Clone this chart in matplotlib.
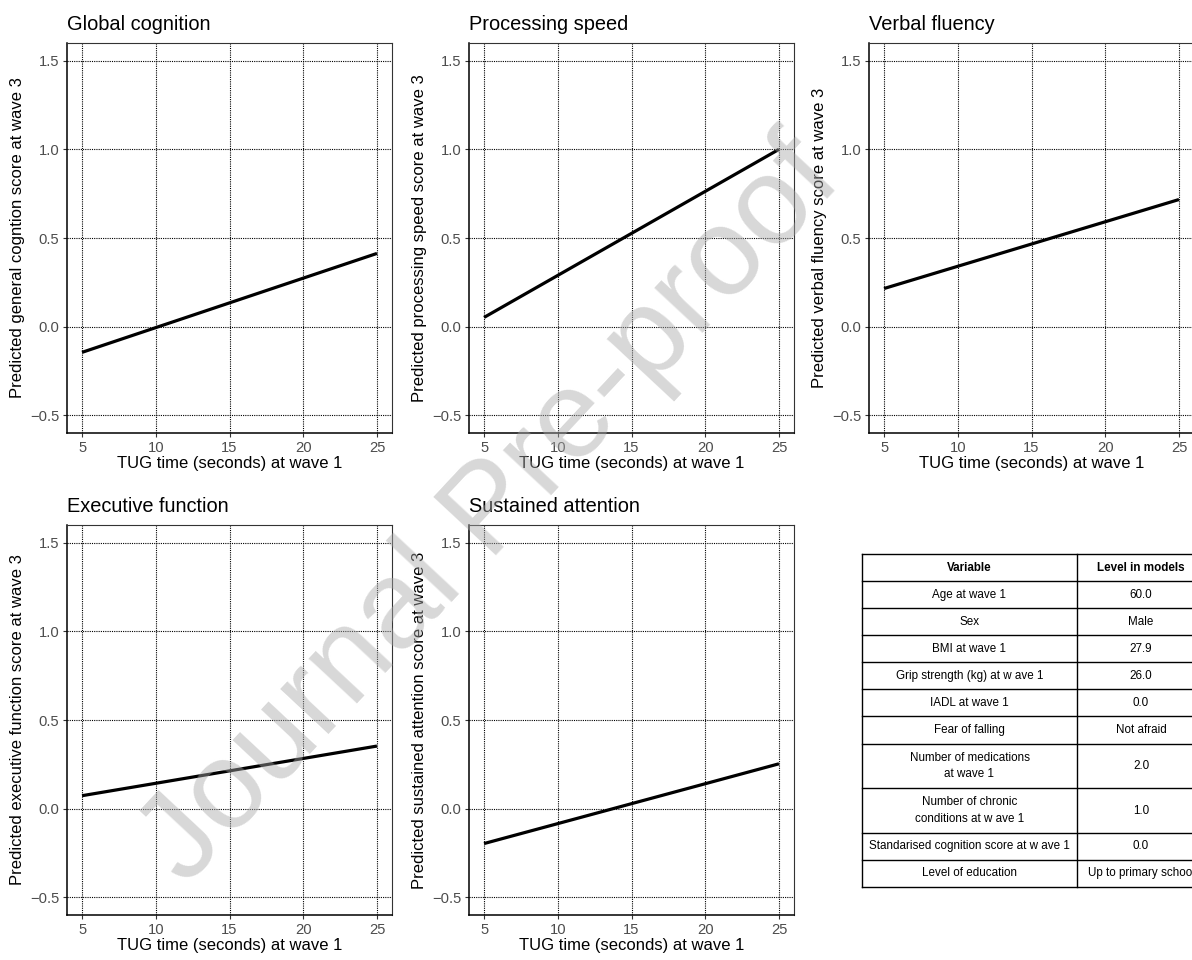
import matplotlib
matplotlib.use("Agg")
import matplotlib.pyplot as plt
import numpy as np

plt.rcParams['font.family'] = ['Liberation Sans', 'DejaVu Sans']

# ---------------- data ----------------
tug_x = [5, 25]
titles = ["Global cognition", "Processing speed", "Verbal fluency",
          "Executive function", "Sustained attention"]
ylabels = ["Predicted general cogntion score at wave 3",
           "Predicted processing speed score at wave 3",
           "Predicted verbal fluency score at wave 3",
           "Predicted executive function score at wave 3",
           "Predicted sustained attention score at wave 3"]
global_cog = [-0.145, 0.413]
proc_speed = [0.052, 1.0]
verbal_flu = [0.215, 0.717]
exec_func = [0.073, 0.353]
sust_att = [-0.197, 0.253]
series = [global_cog, proc_speed, verbal_flu, exec_func, sust_att]
xticks = [5, 10, 15, 20, 25]
yticks = [-0.5, 0.0, 0.5, 1.0, 1.5]
xlabel = "TUG time (seconds) at wave 1"

table_vars = ["Age at wave 1", "Sex", "BMI at wave 1", "Grip strength (kg) at w ave 1",
              "IADL at wave 1", "Fear of falling", "Number of medications\nat wave 1",
              "Number of chronic\nconditions at w ave 1",
              "Standarised cognition score at w ave 1", "Level of education"]
table_levels = ["60.0", "Male", "27.9", "26.0", "0.0", "Not afraid", "2.0", "1.0",
                "0.0", "Up to primary school"]
table_header = ["Variable", "Level in models"]

# ---------------- figure ----------------
W, H = 1192, 960
fig = plt.figure(figsize=(W / 100, H / 100), dpi=100)

lefts = [67, 469, 869]
tops = [43, 525]
aw, ah = 325, 390

for i, (t, yl, vals) in enumerate(zip(titles, ylabels, series)):
    r, c = divmod(i, 3)
    ax = fig.add_axes([lefts[c] / W, 1 - (tops[r] + ah) / H, aw / W, ah / H])
    ax.set_xlim(3.98, 26.02)
    ax.set_ylim(-0.6, 1.6)
    ax.set_xticks(xticks)
    ax.set_yticks(yticks)
    ax.set_yticklabels([f"{v:.1f}".replace("-", "\u2212") for v in yticks])
    ax.grid(True, color='black', linestyle=(0, (1, 1)), linewidth=0.8)
    ax.set_axisbelow(True)
    ax.plot(tug_x, vals, color='black', linewidth=2.3, solid_capstyle='butt', zorder=3)
    ax.set_title(t, loc='left', fontsize=14.4, pad=9)
    ax.set_xlabel(xlabel, fontsize=12, labelpad=1)
    ax.set_ylabel(yl, fontsize=12, labelpad=4)
    ax.tick_params(axis='both', length=3, width=0.8, color='#333333',
                   labelcolor='#4d4d4d', labelsize=10.6, pad=2.5)
    for s in ['left', 'bottom']:
        ax.spines[s].set_color('black')
        ax.spines[s].set_linewidth(1.1)
    for s in ['top', 'right']:
        ax.spines[s].set_color('#333333')
        ax.spines[s].set_linewidth(0.8)

# ---------------- table ----------------
tl, tr, tt, tb = 862, 1205, 554, 887
axt = fig.add_axes([tl / W, 1 - tb / H, (tr - tl) / W, (tb - tt) / H])
axt.set_xlim(0, tr - tl)
units = [1.0] + [1.65 if "\n" in v else 1.0 for v in table_vars]
total = sum(units)
axt.set_ylim(total, 0)
axt.axis('off')
col_div = 1077 - tl
cols_center = [col_div / 2, col_div + (tr - tl - col_div) / 2]
rows = [table_header] + list(zip(table_vars, table_levels))
y = 0.0
for k, (u, row) in enumerate(zip(units, rows)):
    for j, txt in enumerate(row):
        axt.text(cols_center[j], y + u / 2, txt, ha='center', va='center',
                 fontsize=8.4, fontweight='bold' if k == 0 else 'normal',
                 linespacing=1.5, color='black')
    y += u
    axt.plot([0, tr - tl], [y, y], color='black', lw=1.0, clip_on=False)
axt.plot([0, tr - tl], [0, 0], color='black', lw=1.0, clip_on=False)
axt.plot([0, 0], [0, total], color='black', lw=1.0, clip_on=False)
axt.plot([col_div, col_div], [0, total], color='black', lw=1.0, clip_on=False)
axt.plot([tr - tl, tr - tl], [0, total], color='black', lw=1.0, clip_on=False)

# ---------------- watermark ----------------
fig.text(492 / W, 1 - 512 / H, "Journal Pre-proof", rotation=47, ha='center',
         va='center', fontsize=90, color='0.66', alpha=0.45, zorder=100,
         rotation_mode='anchor')

fig.savefig("out.png", dpi=100)
